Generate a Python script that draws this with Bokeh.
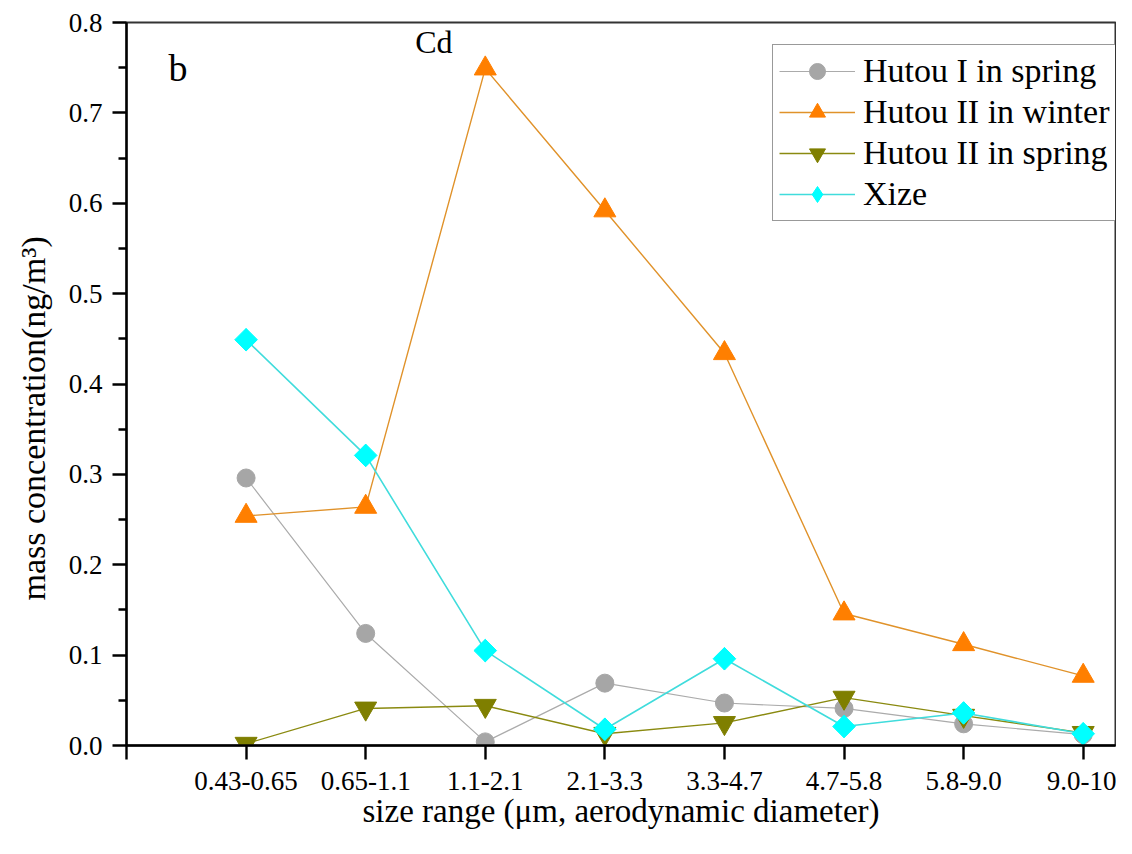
import math
from bokeh.plotting import figure
from bokeh.models import FixedTicker, Label, Legend, LegendItem, PrintfTickFormatter, Title
from bokeh.embed import file_html
from bokeh.resources import INLINE

categories = ["0.43-0.65", "0.65-1.1", "1.1-2.1", "2.1-3.3", "3.3-4.7", "4.7-5.8", "5.8-9.0", "9.0-10"]
hutou1_spring = [0.296, 0.124, 0.004, 0.069, 0.047, 0.041, 0.024, 0.012]
hutou2_winter = [0.254, 0.264, 0.749, 0.592, 0.434, 0.146, 0.112, 0.077]
hutou2_spring = [0.002, 0.041, 0.044, 0.013, 0.025, 0.053, 0.033, 0.014]
xize = [0.449, 0.321, 0.105, 0.018, 0.096, 0.021, 0.036, 0.013]
series_names = ["Hutou I in spring", "Hutou II in winter", "Hutou II in spring", "Xize"]

xs = list(range(1, len(categories) + 1))
FONT = "Liberation Serif"

p = figure(width=1116, height=838, output_backend="svg", toolbar_location=None,
           x_range=(0, 8.27), y_range=(0, 0.8),
           min_border_left=126, min_border_right=1, min_border_top=22, min_border_bottom=93)
p.xgrid.visible = False
p.ygrid.visible = False
p.outline_line_color = "#333333"
p.outline_line_width = 2
p.background_fill_color = "white"
p.border_fill_color = "white"

xa = p.xaxis[0]
xa.ticker = FixedTicker(ticks=[0] + xs, minor_ticks=[])
overrides = {0: ""}
for i, c in zip(xs, categories):
    overrides[i] = c
xa.major_label_overrides = overrides
ya = p.yaxis[0]
ya.ticker = FixedTicker(ticks=[i / 10 for i in range(9)], minor_ticks=[0.05 + i / 10 for i in range(8)])
ya.formatter = PrintfTickFormatter(format="%.1f")

for ax in (xa, ya):
    ax.axis_line_width = 2.4
    ax.axis_line_color = "black"
    ax.major_tick_line_width = 2.4
    ax.major_tick_line_color = "black"
    ax.minor_tick_line_width = 2.4
    ax.minor_tick_line_color = "black"
    ax.major_tick_in = 0
    ax.major_tick_out = 14
    ax.minor_tick_in = 0
    ax.minor_tick_out = 8
    ax.major_label_text_font = FONT
    ax.major_label_text_font_size = "27px"
    ax.major_label_text_color = "black"
xa.major_label_standoff = 12
ya.major_label_standoff = 10

xa.axis_label = "size range (\u03bcm, aerodynamic diameter)"
xa.axis_label_text_font = FONT
xa.axis_label_text_font_size = "33px"
xa.axis_label_text_font_style = "normal"
xa.axis_label_text_color = "black"
xa.axis_label_standoff = 0

ytitle = Title(text="mass concentration(ng/m\u00b3)", align="left", offset=145,
               text_font=FONT, text_font_size="34px", text_font_style="normal",
               text_color="black", standoff=25, vertical_align="middle")
p.add_layout(ytitle, "left")

styles = [
    (hutou1_spring, "circle", 18, "#A6A6A6", "#ABABAB", 1.2),
    (hutou2_winter, "triangle", 22, "#FF7F00", "#E0922A", 1.4),
    (hutou2_spring, "inverted_triangle", 22, "#7F7F00", "#8A8A10", 1.4),
    (xize, "diamond", 22, "#00FFFF", "#40DCDC", 1.6),
]
items = []
for name, (ys, marker, size, mcol, lcol, lw) in zip(series_names, styles):
    r1 = p.line(xs, ys, line_color=lcol, line_width=lw)
    r2 = p.scatter(xs, ys, marker=marker, size=size, fill_color=mcol, line_color=mcol)
    if marker == "diamond":
        # square rotated by 45 degrees gives the wide diamond of the original
        p.scatter(xs, ys, marker="square", size=16, angle=math.pi / 4,
                  fill_color=mcol, line_color=mcol)
    items.append(LegendItem(label=name, renderers=[r1, r2]))

legend = Legend(items=items, location=(646, 524))
legend.label_text_font = FONT
legend.label_text_font_size = "34px"
legend.label_text_color = "black"
legend.glyph_width = 76
legend.glyph_height = 40
legend.label_height = 40
legend.spacing = 1
legend.padding = 6
legend.margin = 0
legend.label_standoff = 8
legend.border_line_color = "#333333"
legend.border_line_width = 1.5
legend.background_fill_alpha = 1
p.add_layout(legend)

p.add_layout(Label(x=0.351, y=0.750, text="b", text_font=FONT, text_font_size="38px",
                   text_color="black", text_align="left", text_baseline="alphabetic"))
p.add_layout(Label(x=2.414, y=0.778, text="Cd", text_font=FONT, text_font_size="32px",
                   text_color="black", text_align="left", text_baseline="alphabetic"))

open("out.html", "w").write(file_html(p, INLINE))
